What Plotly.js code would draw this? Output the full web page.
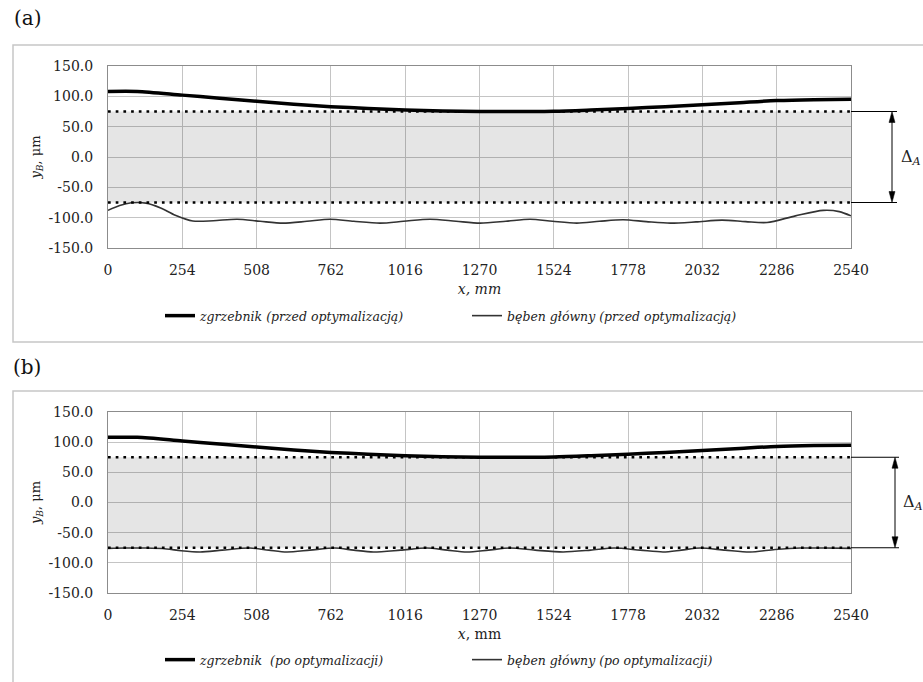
<!DOCTYPE html>
<html>
<head>
<meta charset="utf-8">
<script src="https://cdn.plot.ly/plotly-3.0.1.min.js"></script>
<style>html,body{margin:0;padding:0;background:#fff;}#chart{width:923px;height:682px;}</style>
</head>
<body>
<div id="chart"></div>
<script>
// ---- data ----
const xTicks = [0, 254, 508, 762, 1016, 1270, 1524, 1778, 2032, 2286, 2540];
const xTickText = ['0', '254', '508', '762', '1016', '1270', '1524', '1778', '2032', '2286', '2540'];
const yTicks = [-150, -100, -50, 0, 50, 100, 150];
const yTickText = ['-150.0', '-100.0', '-50.0', '0.0', '50.0', '100.0', '150.0'];

// tolerance band limits (Delta_A)
const limitX = [0, 2540];
const limitUpper = [75, 75];
const limitLower = [-75, -75];

// zgrzebnik (same in both panels)
const zgrzX = [0, 100, 254, 381, 508, 635, 762, 889, 1016, 1143, 1270, 1397, 1524, 1651, 1778, 1905, 2032, 2159, 2286, 2413, 2540];
const zgrzY = [108, 108, 102, 97, 92, 87, 83, 80, 77.5, 76, 75, 75, 75.5, 77.5, 80, 83, 86, 89.5, 93, 94.5, 95];

// beben glowny (a) przed optymalizacja
const bebenAX = [0, 40, 80, 130, 180, 230, 290, 360, 441, 520, 598, 680, 759, 840, 930, 1010, 1101, 1190, 1272, 1360, 1443, 1520, 1603, 1680, 1761, 1840, 1922, 2010, 2099, 2180, 2253, 2350, 2445, 2500, 2540];
const bebenAY = [-88, -80, -75.5, -76, -84, -96, -105.5, -105, -102.5, -106, -109, -106, -102.5, -106, -109, -106, -102.5, -106, -109, -106, -102.5, -106, -109, -106, -103.5, -106.5, -109, -107, -104, -106.5, -108, -97, -88, -90, -97];

// beben glowny (b) po optymalizacji
const bebenBX = [0, 60, 130, 200, 250, 315, 390, 485, 550, 611, 690, 776, 840, 907, 1000, 1090, 1160, 1227, 1300, 1374, 1460, 1556, 1650, 1730, 1820, 1898, 1960, 2024, 2110, 2195, 2280, 2366, 2450, 2540];
const bebenBY = [-76, -75.5, -75.5, -77, -80, -82, -79, -75.5, -79, -82, -79, -75.5, -79, -82, -79, -75.5, -79, -82, -79, -75.5, -79, -82, -79, -75.5, -79, -82, -79, -75.5, -79, -82, -78, -75.5, -75.5, -76];

const legendA = ['zgrzebnik (przed optymalizacją)', 'bęben główny (przed optymalizacją)'];
const legendB = ['zgrzebnik  (po optymalizacji)', 'bęben główny (po optymalizacji)'];

// ---- layout helpers ----
const W = 923, H = 682;
const px = v => v / W;
const py = v => 1 - v / H;
const FONT = 'DejaVu Serif';

function panelTraces(xa, ya, bx, by, names, legendId) {
  const common = {xaxis: xa, yaxis: ya, legend: legendId};
  return [
    Object.assign({x: limitX, y: limitLower, mode: 'lines', line: {width: 0, color: 'rgba(0,0,0,0)'}, showlegend: false, hoverinfo: 'skip'}, common),
    Object.assign({x: limitX, y: limitUpper, mode: 'lines', line: {width: 0, color: 'rgba(0,0,0,0)'}, fill: 'tonexty', fillcolor: 'rgba(0,0,0,0.1)', showlegend: false, hoverinfo: 'skip'}, common),
    Object.assign({x: zgrzX, y: zgrzY, mode: 'lines', name: names[0], line: {color: '#000', width: 3.5, shape: 'spline', smoothing: 0.8}}, common),
    Object.assign({x: bx, y: by, mode: 'lines', name: names[1], line: {color: '#333', width: 1.6, shape: 'spline', smoothing: 0.8}}, common),
    Object.assign({x: limitX, y: limitUpper, mode: 'lines', line: {color: '#000', width: 2.7, dash: '2.7px,5px'}, showlegend: false, hoverinfo: 'skip'}, common),
    Object.assign({x: limitX, y: limitLower, mode: 'lines', line: {color: '#000', width: 2.7, dash: '2.7px,5px'}, showlegend: false, hoverinfo: 'skip'}, common)
  ];
}

const data = [].concat(
  panelTraces('x', 'y', bebenAX, bebenAY, legendA, 'legend'),
  panelTraces('x2', 'y2', bebenBX, bebenBY, legendB, 'legend2')
);

function xAxis(anchor, titleText) {
  return {
    domain: [px(108), px(851)], anchor: anchor, range: [0, 2540],
    tickvals: xTicks, ticktext: xTickText, ticks: '', ticklabelstandoff: 9,
    showgrid: true, gridcolor: '#c4c4c4', gridwidth: 1, zeroline: false,
    showline: true, mirror: true, linecolor: '#8c8c8c', linewidth: 1,
    tickfont: {family: FONT, size: 14, color: '#222'},
    title: {text: titleText, font: {family: FONT, size: 14, color: '#222'}, standoff: 7},
    fixedrange: true, automargin: false
  };
}
function yAxis(anchor, top, bottom) {
  return {
    domain: [py(bottom), py(top)], anchor: anchor, range: [-150, 150],
    tickvals: yTicks, ticktext: yTickText, ticks: '', ticklabelstandoff: 11,
    showgrid: true, gridcolor: '#c4c4c4', gridwidth: 1, zeroline: false,
    showline: true, mirror: true, linecolor: '#8c8c8c', linewidth: 1,
    tickfont: {family: FONT, size: 14, color: '#222'},
    title: {text: '<i>y</i><sub><i>B</i></sub>, μm', font: {family: FONT, size: 13, color: '#222'}, standoff: 4},
    fixedrange: true, automargin: false
  };
}

// Delta_A dimension marker: two extension lines, a vertical line with filled arrowheads, and the label
function deltaParts(yref, arrowX, lineEnd, plotTop, plotBottom) {
  const unitsPerPx = 300 / (plotBottom - plotTop);
  const headLen = 11 * unitsPerPx;
  const hw = px(3);
  const ax = px(arrowX);
  const up = limitUpper[0], lo = limitLower[0];
  const shapes = [
    {type: 'line', xref: 'paper', yref: yref, x0: px(851), x1: px(lineEnd), y0: up, y1: up, line: {color: '#000', width: 1}},
    {type: 'line', xref: 'paper', yref: yref, x0: px(851), x1: px(lineEnd), y0: lo, y1: lo, line: {color: '#000', width: 1}},
    {type: 'line', xref: 'paper', yref: yref, x0: ax, x1: ax, y0: lo + headLen * 0.8, y1: up - headLen * 0.8, line: {color: '#000', width: 1}},
    {type: 'path', xref: 'paper', yref: yref, path: `M ${ax - hw},${up - headLen} L ${ax},${up} L ${ax + hw},${up - headLen} Z`, fillcolor: '#000', line: {color: '#000', width: 0.5}},
    {type: 'path', xref: 'paper', yref: yref, path: `M ${ax - hw},${lo + headLen} L ${ax},${lo} L ${ax + hw},${lo + headLen} Z`, fillcolor: '#000', line: {color: '#000', width: 0.5}}
  ];
  const anns = [
    {xref: 'paper', yref: yref, x: px(lineEnd + 2), y: 0, xanchor: 'left', yanchor: 'middle', showarrow: false,
     text: 'Δ<sub><i>A</i></sub>', font: {family: FONT, size: 16, color: '#222'}}
  ];
  return {shapes, anns};
}
const dA = deltaParts('y', 892, 897, 66, 248);
const dB = deltaParts('y2', 895, 899, 412, 593);

const legendFont = {family: FONT, size: 12.5, style: 'italic', color: '#222'};
const layout = {
  width: W, height: H, autosize: false,
  margin: {l: 0, r: 0, t: 0, b: 0},
  paper_bgcolor: '#fff', plot_bgcolor: '#fff',
  font: {family: FONT, color: '#222'},
  xaxis: xAxis('y', '<i>x, mm</i>'),
  yaxis: yAxis('x', 66, 248),
  xaxis2: xAxis('y2', '<i>x</i>, mm'),
  yaxis2: yAxis('x2', 412, 593),
  legend: {orientation: 'h', traceorder: 'normal', x: px(160), y: py(316), xanchor: 'left', yanchor: 'middle', entrywidth: 262,
           font: legendFont, bgcolor: 'rgba(0,0,0,0)'},
  legend2: {orientation: 'h', traceorder: 'normal', x: px(160), y: py(660), xanchor: 'left', yanchor: 'middle', entrywidth: 262,
           font: legendFont, bgcolor: 'rgba(0,0,0,0)'},
  shapes: [
    {type: 'rect', xref: 'paper', yref: 'paper', x0: px(13), x1: 1.02, y0: py(342), y1: py(45), line: {color: '#c6c6c6', width: 1.5}, layer: 'below'},
    {type: 'rect', xref: 'paper', yref: 'paper', x0: px(13), x1: 1.02, y0: -0.05, y1: py(391), line: {color: '#c6c6c6', width: 1.5}, layer: 'below'}
  ].concat(dA.shapes, dB.shapes),
  annotations: [
    {xref: 'paper', yref: 'paper', x: px(12), y: py(18), xanchor: 'left', yanchor: 'middle', showarrow: false, text: '(a)', font: {family: FONT, size: 20, color: '#111'}},
    {xref: 'paper', yref: 'paper', x: px(11), y: py(367), xanchor: 'left', yanchor: 'middle', showarrow: false, text: '(b)', font: {family: FONT, size: 20, color: '#111'}}
  ].concat(dA.anns, dB.anns)
};

Plotly.newPlot('chart', data, layout, {staticPlot: true, displayModeBar: false});
</script>
</body>
</html>
